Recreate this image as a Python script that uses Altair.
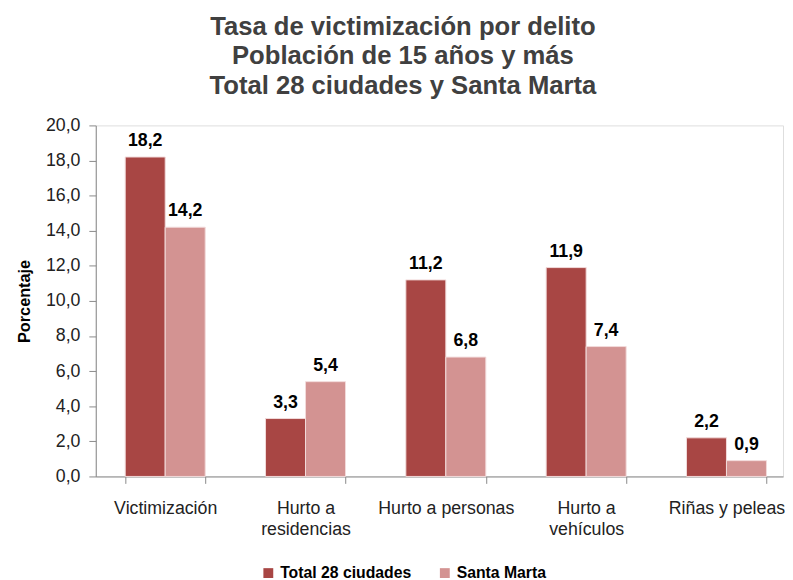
import altair as alt
import pandas as pd

categories = ["Victimización", "Hurto a\nresidencias", "Hurto a personas", "Hurto a\nvehículos", "Riñas y peleas"]
series = ["Total 28 ciudades", "Santa Marta"]
total_28 = [18.2, 3.3, 11.2, 11.9, 2.2]
santa_marta = [14.2, 5.4, 6.8, 7.4, 0.9]
y_ticks = [0, 2, 4, 6, 8, 10, 12, 14, 16, 18, 20]
colors = ["#A84644", "#D39392"]

rows = []
for c, a, b in zip(categories, total_28, santa_marta):
    rows.append({"cat": c, "serie": series[0], "valor": a})
    rows.append({"cat": c, "serie": series[1], "valor": b})
df = pd.DataFrame(rows)
df["etiqueta"] = df["valor"].map(lambda v: f"{v:.1f}".replace(".", ","))

FONT = "Liberation Sans"

x_axis = alt.Axis(labelAngle=0, labelExpr="split(datum.label, '\\n')",
                  labelFontSize=18, labelColor="#222222", labelFont=FONT,
                  labelPadding=17, labelLineHeight=21, labelBaseline="top",
                  tickBand="extent", tickSize=7, tickColor="#888888",
                  domainColor="#888888", labelOverlap=False, labelBound=False)
x_scale = alt.Scale(paddingInner=0.43, paddingOuter=0.164, align=0.64)
y_axis = alt.Axis(values=y_ticks, tickCount=11,
                  labelExpr="replace(format(datum.value, '.1f'), '.', ',')",
                  labelFontSize=18, labelColor="#222222", labelFont=FONT,
                  labelOverlap=False,
                  titleFontSize=16.5, titleFont=FONT, titleFontWeight="bold",
                  titleColor="#000000", titlePadding=13,
                  grid=False, tickSize=7, tickColor="#888888", domainColor="#888888",
                  labelPadding=9)
y_scale = alt.Scale(domain=[0, 20], nice=False)

def xe():
    return alt.X("cat:N", sort=categories, title=None, scale=x_scale, axis=x_axis)

def ye():
    return alt.Y("valor:Q", title="Porcentaje", scale=y_scale, axis=y_axis)

def xoe():
    return alt.XOffset("serie:N", sort=series, scale=alt.Scale(paddingInner=0, paddingOuter=0))

bars = alt.Chart(df).mark_bar(stroke="#F2DADA", strokeWidth=1).encode(
    x=xe(), xOffset=xoe(), y=ye(),
    color=alt.Color("serie:N", sort=series,
                    scale=alt.Scale(domain=series, range=colors),
                    legend=alt.Legend(title=None, orient="none", direction="horizontal",
                                      legendX=167, legendY=446,
                                      labelFontSize=16, labelFontWeight="bold", labelFont=FONT,
                                      labelColor="#000000", symbolType="square", symbolSize=100,
                                      symbolStrokeWidth=0,
                                      columnPadding=25, labelOffset=4))
)

labels = alt.Chart(df).mark_text(dy=-11, baseline="alphabetic", fontSize=18, fontWeight="bold",
                                 font=FONT, color="#000000").encode(
    x=xe(), xOffset=xoe(), y=ye(), text="etiqueta:N"
)

chart = (bars + labels).properties(
    width=697, height=356,
    title=alt.TitleParams(
        text=["Tasa de victimización por delito", "Población de 15 años y más",
              "Total 28 ciudades y Santa Marta"],
        fontSize=26, font=FONT, fontWeight="bold", color="#404040",
        lineHeight=30, anchor="middle", offset=18, dx=-37)
).configure_view(stroke=None).configure(padding={"left": 8, "right": 0, "top": 2, "bottom": 0})

chart.save("out.html", embed_options={"renderer": "svg", "actions": False})
